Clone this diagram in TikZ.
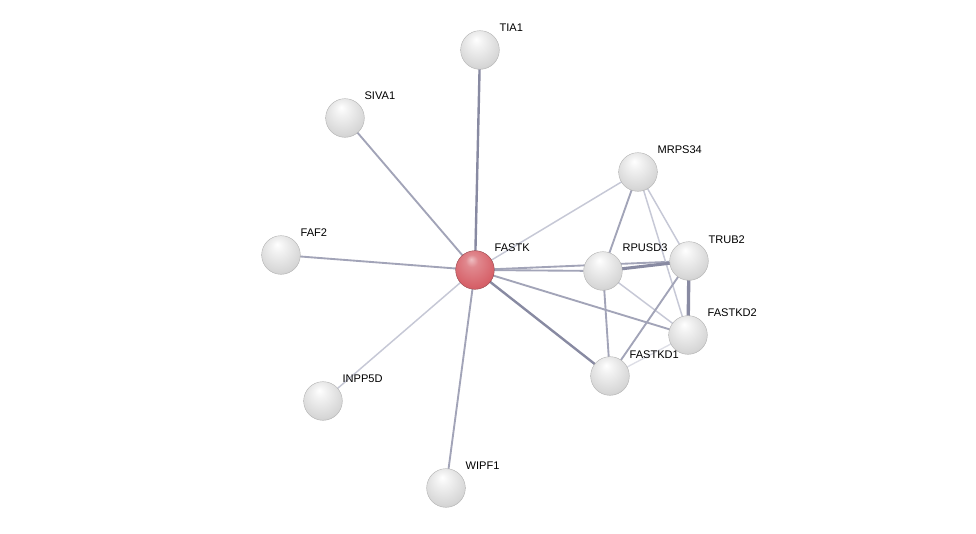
\documentclass[tikz,border=0pt]{standalone}
\usepackage{fontspec}
\setmainfont{Liberation Sans}
\usetikzlibrary{backgrounds}
\definecolor{edge}{RGB}{162,164,184}
\definecolor{edgelight}{RGB}{198,200,214}
\definecolor{edgedark}{RGB}{136,138,162}
\pgfdeclareradialshading{greyball}{\pgfpoint{-5bp}{14bp}}{%
  color(0bp)=(white); color(8bp)=(white!95!black); color(28bp)=(white!84!black);
  color(40bp)=(white!70!black); color(50bp)=(white!48!black)}
\definecolor{redc}{RGB}{214,96,104}
\pgfdeclareradialshading{redball}{\pgfpoint{-5bp}{14bp}}{%
  color(0bp)=(white!60!redc); color(8bp)=(white!25!redc); color(28bp)=(redc);
  color(40bp)=(redc!85!black); color(50bp)=(redc!60!black)}
\tikzset{
  prot/.style={circle, minimum size=29pt, inner sep=0pt, shading=greyball, draw=gray!60, line width=0.3pt},
  protred/.style={prot, shading=redball, draw={rgb,255:red,150;green,70;blue,75}},
  lbl/.style={anchor=west, font=\fontsize{8.3}{9}\selectfont, inner sep=1pt},
  e/.style={draw=edge, line width=1.4pt},
  el/.style={draw=edgelight, line width=1.1pt},
  ed/.style={draw=edgedark, line width=1.8pt}
}
\begin{document}
\begin{tikzpicture}[x=0.75pt, y=-0.75pt]
\useasboundingbox (0,0) rectangle (976,534);
% nodes
\node[protred] (fastk) at (475,270) {};
\node[prot] (tia1) at (480,50) {};
\node[prot] (siva1) at (345,118) {};
\node[prot] (faf2) at (281,255) {};
\node[prot] (inpp5d) at (323,401) {};
\node[prot] (wipf1) at (446,488) {};
\node[prot] (mrps34) at (638,172) {};
\node[prot] (rpusd3) at (603,271) {};
\node[prot] (trub2) at (689,261) {};
\node[prot] (fastkd2) at (688,335) {};
\node[prot] (fastkd1) at (610,376) {};
% labels
\node[lbl] (lfastk) at (493,248) {FASTK};
\node[lbl] (ltia1) at (498,28) {TIA1};
\node[lbl] (lsiva1) at (363,96) {SIVA1};
\node[lbl] (lfaf2) at (299,233) {FAF2};
\node[lbl] (linpp5d) at (341,379) {INPP5D};
\node[lbl] (lwipf1) at (464,466) {WIPF1};
\node[lbl] (lmrps34) at (656,150) {MRPS34};
\node[lbl] (lrpusd3) at (621,248) {RPUSD3};
\node[lbl] (ltrub2) at (707,240) {TRUB2};
\node[lbl] (lfastkd2) at (706,313) {FASTKD2};
\node[lbl] (lfastkd1) at (628,355) {FASTKD1};
% edges
\begin{scope}[on background layer]
\fill[white] (0,0) rectangle (976,534);
\draw[ed] (fastk.center) -- (tia1.center);
\draw[e] (fastk.center) -- (siva1.center);
\draw[e] (fastk.center) -- (faf2.center);
\draw[el] (fastk.center) -- (inpp5d.center);
\draw[e] (fastk.center) -- (wipf1.center);
\draw[el] (fastk.center) -- (mrps34.center);
\draw[e] (fastk.center) -- (rpusd3.center);
\draw[e] (fastk.center) -- (trub2.center);
\draw[e] (fastk.center) -- (fastkd2.center);
\draw[ed] (fastk.center) -- (fastkd1.center);
\draw[e] (mrps34.center) -- (rpusd3.center);
\draw[el] (mrps34.center) -- (trub2.center);
\draw[el] (mrps34.center) -- (fastkd2.center);
\draw[ed, line width=2.3pt] (rpusd3.center) -- (trub2.center);
\draw[el] (rpusd3.center) -- (fastkd2.center);
\draw[e] (rpusd3.center) -- (fastkd1.center);
\draw[ed, line width=2.5pt] (trub2.center) -- (fastkd2.center);
\draw[e] (trub2.center) -- (fastkd1.center);
\draw[draw=edgelight!60, line width=1pt] (fastkd1.center) -- (fastkd2.center);
\end{scope}
\end{tikzpicture}
\end{document}
